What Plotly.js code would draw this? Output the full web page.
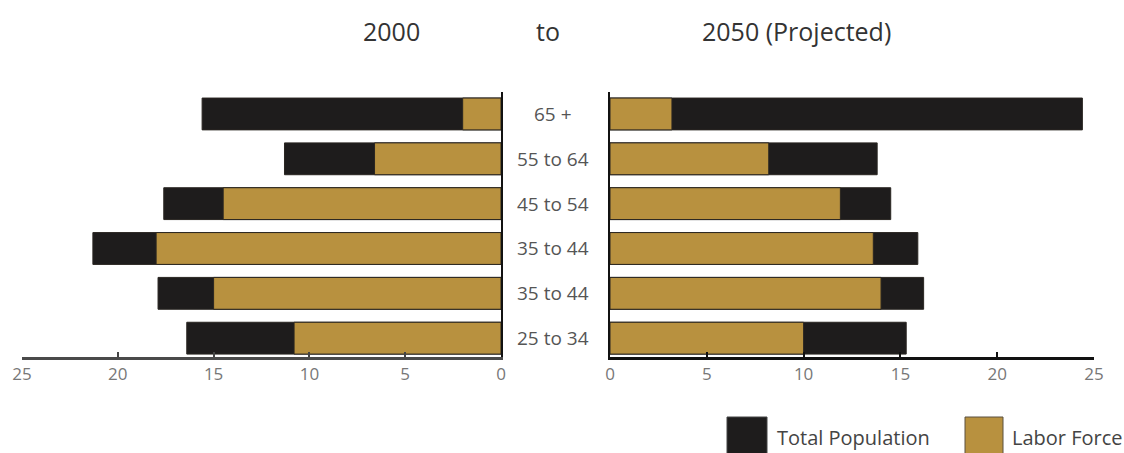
<!DOCTYPE html>
<html>
<head>
<meta charset="utf-8">
<script src="https://cdn.plot.ly/plotly-3.0.1.min.js"></script>
<style>html,body{margin:0;padding:0;background:#fff;}#chart{width:1124px;height:453px;}</style>
</head>
<body>
<div id="chart"></div>
<script>
// Data (millions)
var categories = ["65 +", "55 to 64", "45 to 54", "35 to 44", "35 to 44", "25 to 34"];
var total2000 = [15.6, 11.3, 17.6, 21.3, 17.9, 16.4];
var labor2000 = [2.0, 6.6, 14.5, 18.0, 15.0, 10.8];
var total2050 = [24.4, 13.8, 14.5, 15.9, 16.2, 15.3];
var labor2050 = [3.2, 8.2, 11.9, 13.6, 14.0, 10.0];
var tickValues = [0, 5, 10, 15, 20, 25];
var seriesNames = ["Total Population", "Labor Force"];
var panelTitles = ["2000", "to", "2050 (Projected)"];

var BLACK = "#1e1c1c";
var GOLD = "#b8913f";
var FONT = "Open Sans, sans-serif";

var pos = categories.map(function (c, i) { return i; });

function bar(x, color, xa, ya, name) {
  return {
    type: "bar", orientation: "h", x: x, y: pos, name: name,
    xaxis: xa, yaxis: ya, width: 0.71,
    marker: { color: color, line: { color: "#2a2622", width: 1 } },
    showlegend: false, hoverinfo: "x"
  };
}

var data = [
  bar(total2000, BLACK, "x", "y", seriesNames[0]),
  bar(labor2000, GOLD, "x", "y", seriesNames[1]),
  bar(total2050, BLACK, "x2", "y2", seriesNames[0]),
  bar(labor2050, GOLD, "x2", "y2", seriesNames[1])
];

var W = 1124, H = 453, L = 22, R = 30, T = 92, B = 96;
var pw = W - L - R, ph = H - T - B;
function px(x) { return (x - L) / pw; }
function py(y) { return (H - B - y) / ph; }

var annotations = [];
categories.forEach(function (c, i) {
  annotations.push({
    text: c, xref: "paper", yref: "y", x: px(553), y: i,
    xanchor: "center", yanchor: "middle", showarrow: false,
    font: { family: FONT, size: 19, color: "#555" }
  });
});
var titleX = [391, 548, 796];
panelTitles.forEach(function (t, i) {
  annotations.push({
    text: t, xref: "paper", yref: "paper", x: px(titleX[i]), y: py(31),
    xanchor: "center", yanchor: "middle", showarrow: false,
    font: { family: FONT, size: 25, color: "#333" }
  });
});
annotations.push({
  text: seriesNames[0], xref: "paper", yref: "paper", x: px(775), y: py(437),
  xanchor: "left", yanchor: "middle", showarrow: false,
  font: { family: FONT, size: 20, color: "#444" }
});
annotations.push({
  text: seriesNames[1], xref: "paper", yref: "paper", x: px(1010), y: py(437),
  xanchor: "left", yanchor: "middle", showarrow: false,
  font: { family: FONT, size: 20, color: "#444" }
});

var shapes = [
  { type: "rect", xref: "paper", yref: "paper", x0: px(727), x1: px(767), y0: py(417), y1: py(455),
    fillcolor: BLACK, line: { color: "#444", width: 1 } },
  { type: "rect", xref: "paper", yref: "paper", x0: px(965), x1: px(1003), y0: py(417), y1: py(455),
    fillcolor: GOLD, line: { color: "#5a5040", width: 1 } }
];

var axFont = { family: FONT, size: 17, color: "#777" };
var layout = {
  width: W, height: H,
  margin: { l: L, r: R, t: T, b: B, pad: 0 },
  paper_bgcolor: "#fff", plot_bgcolor: "#fff",
  barmode: "overlay", showlegend: false,
  xaxis: {
    domain: [0, px(501)], range: [25, 0], anchor: "y",
    tickvals: tickValues, ticks: "inside", ticklen: 5, tickwidth: 2, tickcolor: "#444",
    showline: true, linecolor: "#4a4a4a", linewidth: 3,
    showgrid: false, zeroline: false, tickfont: axFont
  },
  xaxis2: {
    domain: [px(610), 1], range: [0, 25], anchor: "y2",
    tickvals: tickValues, ticks: "inside", ticklen: 5, tickwidth: 2, tickcolor: "#111",
    showline: true, linecolor: "#111", linewidth: 2.5,
    showgrid: false, zeroline: false, tickfont: axFont
  },
  yaxis: {
    domain: [0, 1], range: [5.42, -0.49], anchor: "x", side: "right",
    showline: true, linecolor: "#111", linewidth: 2,
    showticklabels: false, ticks: "", showgrid: false, zeroline: false
  },
  yaxis2: {
    domain: [0, 1], range: [5.42, -0.49], anchor: "x2", side: "left",
    showline: true, linecolor: "#111", linewidth: 2.5,
    showticklabels: false, ticks: "", showgrid: false, zeroline: false
  },
  annotations: annotations,
  shapes: shapes
};

Plotly.newPlot("chart", data, layout, { displayModeBar: false, staticPlot: true });
</script>
</body>
</html>
